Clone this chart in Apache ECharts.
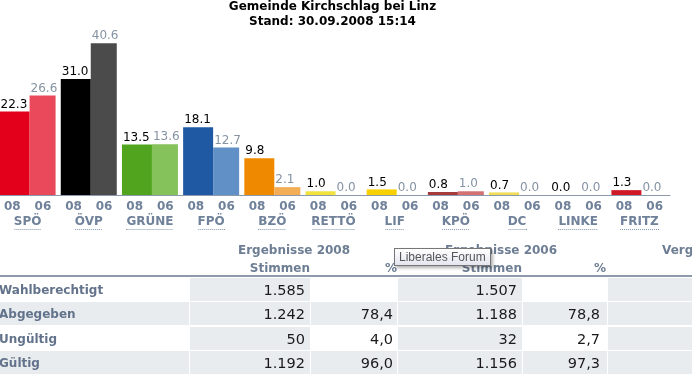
<!DOCTYPE html>
<html>
<head>
<meta charset="utf-8">
<script src="https://cdn.jsdelivr.net/npm/echarts@6/dist/echarts.min.js"></script>
<style>
html, body { margin: 0; padding: 0; background: #fff; width: 692px; height: 376px; overflow: hidden; }
body { position: relative; font-family: "DejaVu Sans", Verdana, sans-serif; }
#barChart { position: absolute; left: -3px; top: 0; width: 698px; height: 236px; }
#tabelle { position: absolute; left: 0; top: 0; width: 692px; height: 376px; }
.box { position: absolute; }
.txt { position: absolute; white-space: nowrap; }
#tip {
  position: absolute; left: 394px; top: 248px; width: 91px; height: 16px;
  border: 1px solid #767676; background: linear-gradient(#ffffff, #e4e5f0);
  box-shadow: 2px 2px 3px rgba(0,0,0,0.3);
  font: 12px "Liberation Sans", Arial, sans-serif; color: #575757;
  line-height: 16px; padding-left: 4px; box-sizing: content-box; white-space: nowrap;
}
</style>
</head>
<body>
<div id="barChart"></div>
<div id="tabelle"></div>
<div id="tip">Liberales Forum</div>
<script>
// Daten Balken
const parteien = ['SPÖ', 'ÖVP', 'GRÜNE', 'FPÖ', 'BZÖ', 'RETTÖ', 'LIF', 'KPÖ', 'DC', 'LINKE', 'FRITZ'];
const werte2008 = [22.3, 31.0, 13.5, 18.1, 9.8, 1.0, 1.5, 0.8, 0.7, 0.0, 1.3];
const werte2006 = [26.6, 40.6, 13.6, 12.7, 2.1, 0.0, 0.0, 1.0, 0.0, 0.0, 0.0];
const jahre = ['08', '06'];
const farben2008 = ['#e2001a', '#000000', '#51a51e', '#1f58a3', '#ef8a00', '#f2e23c', '#f9d000', '#a33b3d', '#f1dc5a', '#888888', '#cf1a26'];
const farben2006 = ['#e9495a', '#4b4b4b', '#86c25c', '#6190c6', '#f3ad55', '#f2e23c', '#f9d000', '#d47273', '#f1dc5a', '#888888', '#cf1a26'];

// Daten Tabelle
const zeilen = ['Wahlberechtigt', 'Abgegeben', 'Ungültig', 'Gültig'];
const stimmen2008 = [1585, 1242, 50, 1192];
const prozent2008 = [null, 78.4, 4.0, 96.0];
const stimmen2006 = [1507, 1188, 32, 1156];
const prozent2006 = [null, 78.8, 2.7, 97.3];

const schrift = '"DejaVu Sans", Verdana, sans-serif';
const achsenFarbe = '#70819a';
const grau06 = '#8593a3';

// punktierte Unterstreichung der Parteinamen
const mess = document.createElement('canvas').getContext('2d');
mess.font = 'bold 12px "DejaVu Sans"';
const rich = { n: { fontFamily: schrift, fontWeight: 'bold', fontSize: 12, color: achsenFarbe, lineHeight: 15 } };
parteien.forEach(function (p, i) {
  const w = Math.round(mess.measureText(p).width);
  const c = document.createElement('canvas');
  c.width = w; c.height = 1;
  const g = c.getContext('2d');
  g.fillStyle = '#8797ab';
  for (let x = 0; x < w; x += 2) g.fillRect(x, 0, 1, 1);
  rich['u' + i] = { width: w, height: 1, lineHeight: 1, backgroundColor: { image: c } };
});

let barChart = echarts.init(document.getElementById('barChart'));
barChart.setOption({
  animation: false,
  title: {
    text: 'Gemeinde Kirchschlag bei Linz\nStand: 30.09.2008 15:14',
    left: 335.5,
    top: -1,
    padding: 0,
    textAlign: 'center',
    textStyle: { fontFamily: schrift, fontWeight: 'bold', fontSize: 12, lineHeight: 15.5, color: '#000' }
  },
  grid: { left: 0, top: 8, width: 673, height: 187 },
  xAxis: [{
    type: 'category',
    position: 'bottom',
    offset: 2,
    data: parteien,
    axisLine: { lineStyle: { color: '#8a99ab', width: 1 } },
    axisTick: { show: false },
    axisLabel: {
      margin: 17,
      interval: 0,
      formatter: function (v, i) { return '{n|' + v + '}\n{u' + i + '|}'; },
      rich: rich
    }
  }, {
    type: 'category',
    position: 'bottom',
    offset: 2,
    data: parteien.flatMap(function () { return jahre; }),
    axisLine: { show: false },
    axisTick: { show: false },
    axisLabel: { margin: 4, interval: 0, fontFamily: schrift, fontWeight: 'bold', fontSize: 12, color: achsenFarbe }
  }],
  yAxis: { type: 'value', min: 0, max: 50, show: false },
  series: [{
    name: '2008',
    type: 'bar',
    barWidth: 30,
    barGap: '0%',
    data: werte2008,
    itemStyle: { color: function (p) { return farben2008[p.dataIndex]; } },
    label: {
      show: true, position: [1, -1], align: 'left', verticalAlign: 'bottom',
      fontFamily: schrift, fontSize: 12, color: '#000',
      formatter: function (p) { return p.value.toFixed(1); }
    }
  }, {
    name: '2006',
    type: 'bar',
    barWidth: 26,
    barGap: '0%',
    data: werte2006,
    itemStyle: { color: function (p) { return farben2006[p.dataIndex]; } },
    label: {
      show: true, position: [1, -1], align: 'left', verticalAlign: 'bottom',
      fontFamily: schrift, fontSize: 12, color: grau06,
      formatter: function (p) { return p.value.toFixed(1); }
    }
  }]
});

// Tabelle
const tab = document.getElementById('tabelle');
const hellgrau = '#e9ecef';
const spalten = [[-1, 189], [190, 310], [311, 397], [398, 522], [523, 607], [608, 700]];
const rechtsRand = [0, 305, 393, 517, 600];

function box(l, t, w, h, farbe) {
  const d = document.createElement('div');
  d.className = 'box';
  d.style.cssText = 'left:' + l + 'px;top:' + t + 'px;width:' + w + 'px;height:' + h + 'px;background:' + farbe;
  tab.appendChild(d);
}
function text(s, x, y, ausrichtung, stil) {
  const d = document.createElement('div');
  d.className = 'txt';
  d.textContent = s;
  d.style.cssText = 'top:' + (y - 10) + 'px;height:20px;line-height:20px;' + stil;
  if (ausrichtung === 'right') d.style.right = (692 - x) + 'px';
  else if (ausrichtung === 'center') { d.style.left = (x - 100) + 'px'; d.style.width = '200px'; d.style.textAlign = 'center'; }
  else d.style.left = x + 'px';
  tab.appendChild(d);
}
function zahl(v) { return v.toString().replace(/\B(?=(\d{3})+(?!\d))/g, '.'); }
function proz(v) { return v === null ? '' : v.toFixed(1).replace('.', ','); }

const kopf = 'font-weight:bold;font-size:12px;color:#6d7e94;';
text('Ergebnisse 2008', 294, 250, 'center', kopf);
text('Stimmen', 310, 267.5, 'right', kopf);
text('%', 397, 268, 'right', kopf);
text('Ergebnisse 2006', 501, 250, 'center', kopf);
text('Stimmen', 522, 267.5, 'right', kopf);
text('%', 606, 268, 'right', kopf);
text('Vergleich', 662, 250, 'left', kopf);
box(0, 275, 692, 2, '#8c9aab');

zeilen.forEach(function (name, i) {
  const t = 277.5 + i * 24.5;
  spalten.forEach(function (s, j) {
    if (i % 2 === 1 || j % 2 === 1) box(s[0], t, s[1] - s[0], 23, hellgrau);
  });
  const y = t + 12;
  text(name, -1, y, 'left', 'font-weight:bold;font-size:12px;color:#62738b;');
  const zs = 'font-size:14.5px;color:#1a1a1a;';
  text(zahl(stimmen2008[i]), rechtsRand[1], y, 'right', zs);
  text(proz(prozent2008[i]), rechtsRand[2], y, 'right', zs);
  text(zahl(stimmen2006[i]), rechtsRand[3], y, 'right', zs);
  text(proz(prozent2006[i]), rechtsRand[4], y, 'right', zs);
});

window.addEventListener('resize', function () { barChart.resize(); });
</script>
</body>
</html>
